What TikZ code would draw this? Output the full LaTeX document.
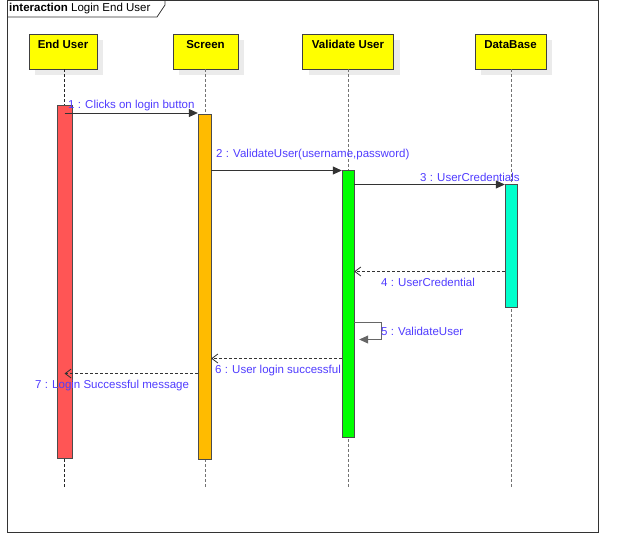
\documentclass[tikz,border=0pt]{standalone}
\usepackage{fontspec}
\setmainfont{Liberation Sans}
\usetikzlibrary{arrows.meta,shadows}
\definecolor{msgtext}{RGB}{80,60,255}
\definecolor{headfill}{RGB}{255,255,0}
\definecolor{eucol}{RGB}{255,85,85}
\definecolor{sccol}{RGB}{255,187,0}
\definecolor{vucol}{RGB}{0,255,0}
\definecolor{dbcol}{RGB}{0,255,204}
\begin{document}
\begin{tikzpicture}[x=1pt,y=-1pt,
  every node/.style={font=\fontsize{11.5}{14}\selectfont},
  head/.style={draw=black!75, fill=headfill, minimum height=35pt, inner sep=0pt,
    drop shadow={shadow xshift=6pt, shadow yshift=-6pt, fill=black!8, opacity=1}},
  headlbl/.style={font=\fontsize{11.5}{14}\selectfont\bfseries, anchor=north, inner sep=0pt, yshift=-6.5pt},
  lifeline/.style={draw=black!55, dash pattern=on 2.5pt off 2.5pt, line width=0.8pt},
  act/.style={draw=black!70, minimum width=13pt, inner sep=0pt},
  msg/.style={draw=black!80, line width=0.8pt, -{Triangle[length=9pt,width=8pt]}},
  ret/.style={draw=black!80, line width=0.8pt, dash pattern=on 3pt off 2pt, -{Straight Barb[length=6pt,width=9pt]}},
  lbl/.style={text=msgtext, anchor=west, inner sep=0pt}]
\useasboundingbox (0,0) rectangle (634,546);

% frame of the interaction
\draw[black!80, line width=0.8pt] (7,0.5) rectangle (598,532);
\draw[black!80, line width=0.8pt] (7,17) -- (157,17) -- (165,5) -- (165,0.5);
\node[anchor=west, inner sep=0pt] (title) at (9,8.5) {\textbf{interaction} Login End User};

% lifeline heads
\node[head, minimum width=68pt] (hEU) at (63,51.5) {};
\node[head, minimum width=65pt] (hSC) at (205.5,51.5) {};
\node[head, minimum width=91pt] (hVU) at (348,51.5) {};
\node[head, minimum width=71pt] (hDB) at (510.5,51.5) {};
\node[headlbl] (tEU) at (hEU.north) {End User};
\node[headlbl] (tSC) at (hSC.north) {Screen};
\node[headlbl] (tVU) at (hVU.north) {Validate User};
\node[headlbl] (tDB) at (hDB.north) {DataBase};

% lifelines
\coordinate (eEU) at (64.5,487);
\coordinate (eSC) at (205.5,487);
\coordinate (eVU) at (348.5,487);
\coordinate (eDB) at (511.5,487);
\draw[lifeline, draw=black!85] (hEU.south -| eEU) -- (eEU);
\draw[lifeline] (hSC.south -| eSC) -- (eSC);
\draw[lifeline] (hVU.south -| eVU) -- (eVU);
\draw[lifeline] (hDB.south -| eDB) -- (eDB);

% activation bars
\node[act, fill=eucol, minimum width=15pt, minimum height=353pt] (aEU) at (64.5,281.5) {};
\node[act, fill=sccol, minimum height=345pt] (aSC) at (204.5,286.5) {};
\node[act, fill=vucol, minimum width=12pt, minimum height=267pt] (aVU) at (348,303.5) {};
\node[act, fill=dbcol, minimum width=12pt, minimum height=123pt] (aDB) at (511,245.5) {};

% messages
\draw[msg] (aEU.center |- 0,113) -- (aSC.west |- 0,113);
\draw[msg] (aSC.east |- 0,170.5) -- (aVU.west |- 0,170.5);
\draw[msg] (aVU.east |- 0,184.5) -- (aDB.west |- 0,184.5);
\draw[ret] (aDB.west |- 0,271.5) -- (aVU.east |- 0,271.5);
\coordinate (s1) at (381,322.5);
\coordinate (s2) at (381,339.5);
\draw[msg, draw=black!60] (aVU.east |- s1) -- (s1) -- (s2) -- ([xshift=5pt]aVU.east |- s2);
\draw[ret] (aVU.west |- 0,358.5) -- (aSC.east |- 0,358.5);
\draw[ret] (aSC.west |- 0,373.5) -- (aEU.center |- 0,373.5);

% message labels
\node[lbl] (l1) at (68,105.5) {1 : Clicks on login button};
\node[lbl] (l2) at (216,155) {2 : ValidateUser(username,password)};
\node[lbl] (l3) at (420,177) {3 : UserCredentials};
\node[lbl] (l4) at (381,282.5) {4 : UserCredential};
\node[lbl] (l5) at (381,331) {5 : ValidateUser};
\node[lbl] (l6) at (215,371) {6 : User login successful};
\node[lbl] (l7) at (35,386) {7 : Login Successful message};
\end{tikzpicture}
\end{document}
